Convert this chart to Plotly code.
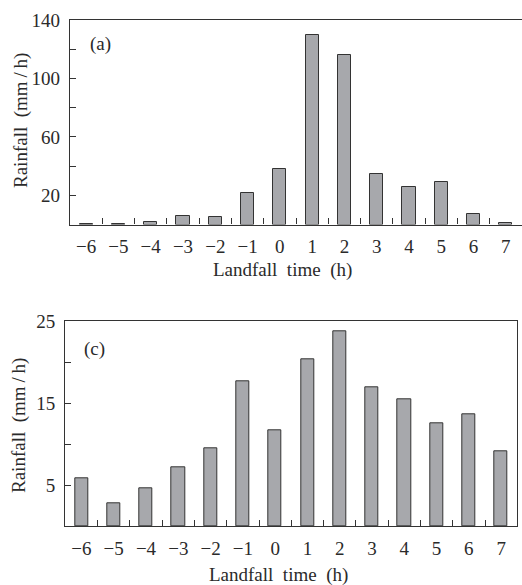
import plotly.graph_objects as go

hours = ["\u22126", "\u22125", "\u22124", "\u22123", "\u22122", "\u22121", "0", "1", "2", "3", "4", "5", "6", "7"]
rain_a = [0.5, 0.5, 2.0, 5.7, 5.3, 21.7, 38.3, 130.0, 116.0, 34.7, 25.8, 29.2, 7.3, 1.2]
rain_c = [5.8, 2.8, 4.6, 7.2, 9.5, 17.7, 11.7, 20.4, 23.8, 16.9, 15.5, 12.6, 13.6, 9.2]
yticks_a = [20, 40, 60, 80, 100, 120, 140]
ytext_a = ["20", "", "60", "", "100", "", "140"]
yticks_c = [5, 10, 15, 20, 25]
ytext_c = ["5", "", "15", "", "25"]
xtitle = "Landfall\u00a0\u00a0time\u00a0\u00a0(h)"
ytitle = "Rainfall\u00a0\u00a0(mm\u2009/\u2009h)"

W, H = 522, 585
FONT = "'Liberation Serif', 'Times New Roman', Times, 'DejaVu Serif', serif"
FS = 19
TXT = "#2a2a2a"
BAR = "#a7a8ac"
LINE = "#333333"

fig = go.Figure()
fig.add_trace(go.Bar(x=hours, y=rain_a, width=0.41, marker=dict(color=BAR, line=dict(color=LINE, width=1)),
                     xaxis="x", yaxis="y", showlegend=False))
fig.add_trace(go.Bar(x=hours, y=rain_c, width=0.41, marker=dict(color=BAR, line=dict(color=LINE, width=1)),
                     xaxis="x2", yaxis="y2", showlegend=False))

def px_x(p):
    return p / W

def px_y(p):
    return (H - p) / H

xcommon = dict(type="category", tickson="boundaries", ticks="inside", ticklen=6, tickwidth=1, tickcolor=LINE,
               showline=True, linecolor=LINE, linewidth=1.3, showgrid=False, zeroline=False,
               tickfont=dict(family=FONT, size=FS, color=TXT), ticklabelstandoff=5, automargin=False,
               range=[-0.5, 13.5], fixedrange=True)
ycommon = dict(ticks="inside", ticklen=6, tickwidth=1, tickcolor=LINE, showline=True, linecolor=LINE,
               linewidth=1.3, showgrid=False, zeroline=False, tickfont=dict(family=FONT, size=FS, color=TXT),
               ticklabelstandoff=5, automargin=False, fixedrange=True)

fig.update_layout(
    width=W, height=H, margin=dict(l=0, r=0, t=0, b=0),
    paper_bgcolor="white", plot_bgcolor="white", bargap=0,
    font=dict(family=FONT, size=FS, color=TXT),
    xaxis=dict(xcommon, domain=[px_x(70), 1.0], anchor="y", mirror=True),
    yaxis=dict(ycommon, domain=[px_y(224.5), px_y(20)], anchor="x", range=[0, 140],
               tickvals=yticks_a, ticktext=ytext_a),
    xaxis2=dict(xcommon, domain=[px_x(65.3), px_x(517.3)], anchor="y2", mirror=True),
    yaxis2=dict(ycommon, domain=[px_y(526.2), px_y(321.3)], anchor="x2", range=[0, 25],
                tickvals=yticks_c, ticktext=ytext_c, mirror=True),
    annotations=[
        dict(text="(a)", x=px_x(88), y=px_y(44), xref="paper", yref="paper", xanchor="left", yanchor="middle",
             showarrow=False, font=dict(family=FONT, size=FS, color=TXT)),
        dict(text="(c)", x=px_x(82), y=px_y(349), xref="paper", yref="paper", xanchor="left", yanchor="middle",
             showarrow=False, font=dict(family=FONT, size=FS, color=TXT)),
        dict(text=xtitle, x=px_x(282), y=px_y(270), xref="paper", yref="paper", xanchor="center",
             yanchor="middle", showarrow=False, font=dict(family=FONT, size=FS, color=TXT)),
        dict(text=xtitle, x=px_x(278), y=px_y(575), xref="paper", yref="paper", xanchor="center",
             yanchor="middle", showarrow=False, font=dict(family=FONT, size=FS, color=TXT)),
        dict(text=ytitle, x=px_x(21), y=px_y(121), xref="paper", yref="paper", xanchor="center",
             yanchor="middle", textangle=-90, showarrow=False, font=dict(family=FONT, size=FS, color=TXT)),
        dict(text=ytitle, x=px_x(19), y=px_y(426), xref="paper", yref="paper", xanchor="center",
             yanchor="middle", textangle=-90, showarrow=False, font=dict(family=FONT, size=FS, color=TXT)),
    ],
)

fig.write_html("out.html", config={"displayModeBar": False},
               post_script="document.body.style.margin='0';document.body.style.overflow='hidden';")
